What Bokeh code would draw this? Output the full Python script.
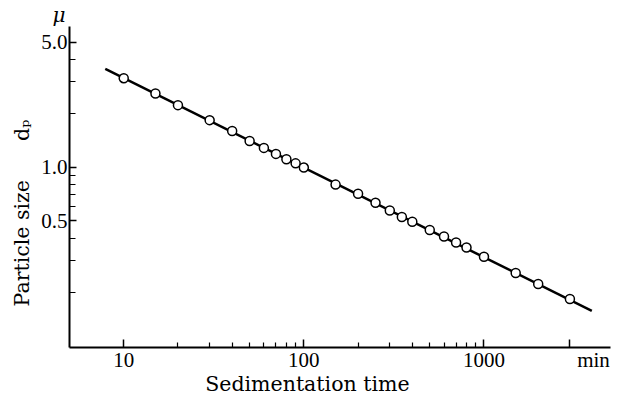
from bokeh.plotting import figure
from bokeh.models import FixedTicker, CustomJSTickFormatter
from bokeh.embed import file_html
from bokeh.resources import INLINE

# Data
time_min = [10, 15, 20, 30, 40, 50, 60, 70, 80, 90, 100, 150, 200, 250, 300,
            350, 400, 500, 600, 700, 800, 1000, 1500, 2000, 3000]
size_mu = [3.14, 2.58, 2.22, 1.83, 1.59, 1.40, 1.28, 1.185, 1.107, 1.049, 0.994,
           0.798, 0.710, 0.632, 0.572, 0.526, 0.495, 0.445, 0.409, 0.379, 0.355,
           0.315, 0.256, 0.222, 0.183]
fit_t = [7.9, 3970]
fit_d = [3.54, 0.157]

NB = "\u00a0"
x_major = [10, 100, 1000, 3000]
x_labels = ["10", "100", "1000", NB * 9 + "min"]
x_minor = [20, 30, 40, 50, 60, 70, 80, 90, 200, 300, 400, 500, 600, 700, 800, 900]
y_major = [0.5, 1.0, 5.0]
y_labels = ["0.5", "1.0", "5.0"]
y_minor = [0.2, 0.3, 0.4, 0.6, 0.7, 0.8, 0.9, 2, 3, 4]
y_unit = "μ"

x_title = "Sedimentation time" + NB * 10
y_title = "Particle" + NB + "size" + NB * 6 + "dₚ" + NB * 8

p = figure(width=621, height=398, x_axis_type="log", y_axis_type="log",
           x_range=(5.0, 5040), y_range=(0.098, 6.11),
           output_backend="svg", toolbar_location=None,
           min_border_left=69, min_border_right=11, min_border_top=25, min_border_bottom=44)
p.outline_line_color = None
p.xgrid.grid_line_color = None
p.ygrid.grid_line_color = None
p.background_fill_color = "white"
p.border_fill_color = "white"

tick_font = "Liberation Serif"
lab_font = "DejaVu Serif"
fmt_code = "const i = vals.indexOf(tick); return i >= 0 ? labs[i] : '';"

# unit label above the y axis
p.title.text = y_unit
p.title.align = "left"
p.title.offset = -17
p.title.standoff = 0
p.title.vertical_align = "bottom"
p.title.text_font = lab_font
p.title.text_font_style = "italic"
p.title.text_font_size = "20px"
p.title.text_color = "black"

xa = p.xaxis[0]
xa.ticker = FixedTicker(ticks=x_major, minor_ticks=x_minor)
xa.formatter = CustomJSTickFormatter(args=dict(vals=x_major, labs=x_labels), code=fmt_code)
xa.axis_line_width = 2
xa.axis_line_color = "black"
xa.major_tick_in = 8
xa.major_tick_out = 0
xa.minor_tick_in = 5
xa.minor_tick_out = 0
xa.major_tick_line_width = 1.5
xa.minor_tick_line_width = 1.2
xa.major_tick_line_color = "black"
xa.minor_tick_line_color = "black"
xa.major_label_text_font = tick_font
xa.major_label_text_font_size = "21px"
xa.major_label_text_color = "black"
xa.major_label_standoff = 0
xa.axis_label = x_title
xa.axis_label_text_font = lab_font
xa.axis_label_text_font_size = "20.5px"
xa.axis_label_text_font_style = "normal"
xa.axis_label_text_color = "black"
xa.axis_label_standoff = -3

ya = p.yaxis[0]
ya.ticker = FixedTicker(ticks=y_major, minor_ticks=y_minor)
ya.formatter = CustomJSTickFormatter(args=dict(vals=y_major, labs=y_labels), code=fmt_code)
ya.axis_line_width = 2
ya.axis_line_color = "black"
ya.major_tick_in = 7
ya.major_tick_out = 0
ya.minor_tick_in = 6
ya.minor_tick_out = 0
ya.major_tick_line_width = 1.5
ya.minor_tick_line_width = 1.2
ya.major_tick_line_color = "black"
ya.minor_tick_line_color = "black"
ya.major_label_text_font = tick_font
ya.major_label_text_font_size = "21px"
ya.major_label_text_color = "black"
ya.major_label_standoff = 2
ya.axis_label = y_title
ya.axis_label_text_font = lab_font
ya.axis_label_text_font_size = "20.5px"
ya.axis_label_text_font_style = "normal"
ya.axis_label_text_color = "black"
ya.axis_label_standoff = 4

p.line(fit_t, fit_d, line_width=2.5, line_color="black")
p.scatter(time_min, size_mu, size=9, fill_color="white", line_color="black", line_width=1.5)

open("out.html", "w").write(file_html(p, INLINE))
